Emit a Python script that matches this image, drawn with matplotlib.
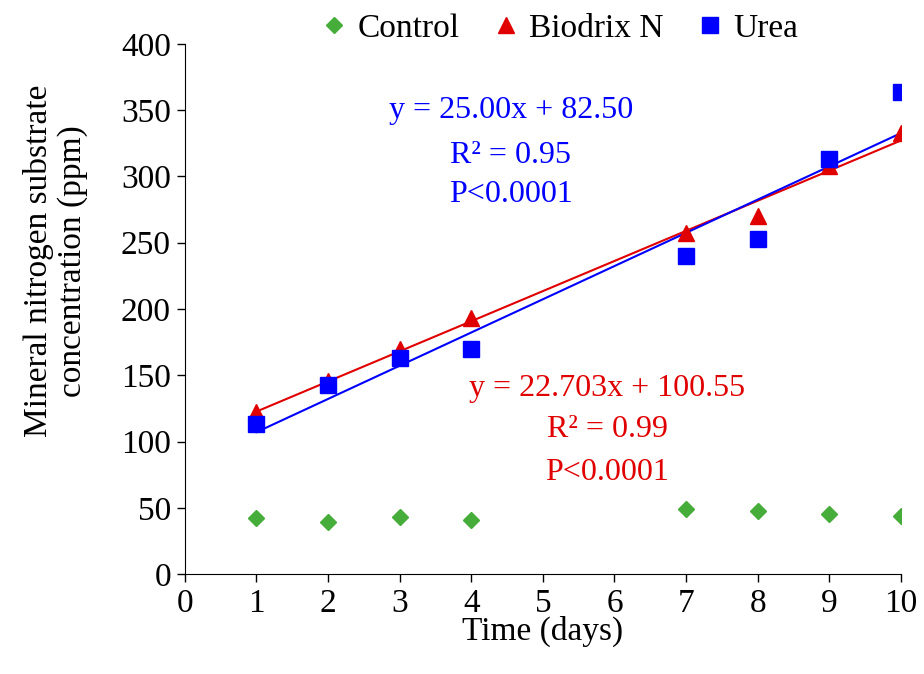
import numpy as np
import matplotlib
matplotlib.use("Agg")
import matplotlib.pyplot as plt

plt.rcParams['font.family'] = ['Liberation Serif', 'DejaVu Serif']

days = [1, 2, 3, 4, 7, 8, 9, 10]
control = [42.3, 39.5, 43, 41, 49, 47.5, 45.5, 43.8]
biodrix = [122, 146, 170, 193, 257, 270, 308, 333]
urea = [113, 143, 163, 170, 240, 253, 313, 364]

green = "#46ad3a"
red = "#e00000"
blue = "#0000ff"

fs = 24

fig = plt.figure(figsize=(9.24, 6.74), dpi=100)
ax = fig.add_axes([0.2, 0.148, 0.775, 0.787])

# trend lines
x = np.array(days)
for ys, c in [(biodrix, red), (urea, blue)]:
    k, b = np.polyfit(x, ys, 1)
    ax.plot([x.min(), x.max()], [k * x.min() + b, k * x.max() + b], color=c, lw=1.5, zorder=2)

ax.plot(days, control, 'D', color=green, ms=8, label="Control", zorder=3)
ax.plot(days, biodrix, '^', color=red, ms=12, label="Biodrix N", zorder=3)
ax.plot(days, urea, 's', color=blue, ms=12, label="Urea", zorder=4)

ax.text(4.55, 350, "y = 25.00x + 82.50", color=blue, fontsize=23, ha='center', va='center')
ax.text(4.55, 316, "R² = 0.95", color=blue, fontsize=23, ha='center', va='center')
ax.text(4.55, 286, "P<0.0001", color=blue, fontsize=23, ha='center', va='center')

ax.text(5.9, 140, "y = 22.703x + 100.55", color=red, fontsize=23, ha='center', va='center')
ax.text(5.9, 109, "R² = 0.99", color=red, fontsize=23, ha='center', va='center')
ax.text(5.9, 77, "P<0.0001", color=red, fontsize=23, ha='center', va='center')

ax.set_xlim(0, 10)
ax.set_ylim(0, 400)
ax.set_xticks(range(0, 11))
ax.set_yticks(range(0, 401, 50))
ax.tick_params(labelsize=fs, direction='out', length=6, width=1, pad=4)
ax.spines['top'].set_visible(False)
ax.spines['right'].set_visible(False)
ax.set_xlabel("Time (days)", fontsize=fs, labelpad=-2)
ax.set_ylabel("Mineral nitrogen substrate\nconcentration (ppm)", fontsize=fs,
              linespacing=1.15)
ax.yaxis.set_label_coords(-0.135, 0.59)

fig.legend(loc='upper center', bbox_to_anchor=(0.602, 1.025), ncol=3, frameon=False,
           fontsize=fs, handletextpad=0.1, columnspacing=0.8, handlelength=1.2)

fig.savefig("out.png", dpi=100)
